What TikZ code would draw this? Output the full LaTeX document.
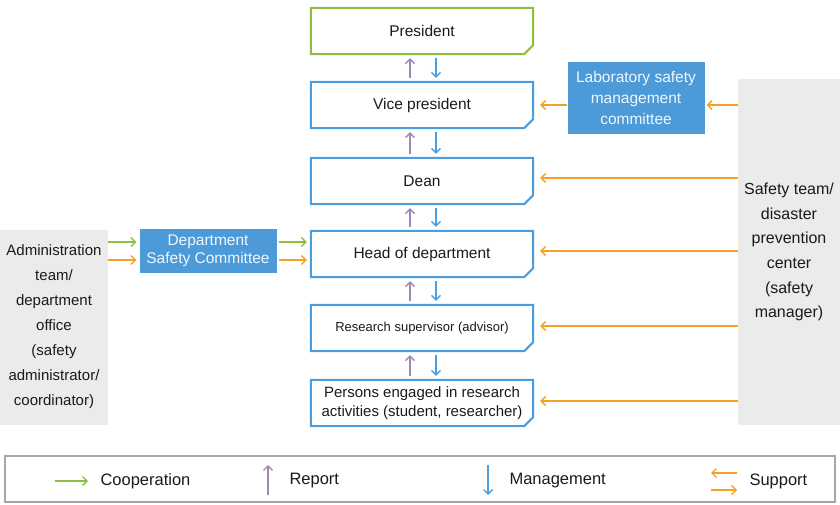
\documentclass[tikz,border=0pt]{standalone}
\usepackage{fontspec}
\setmainfont{Liberation Sans}
\usetikzlibrary{arrows.meta}
\definecolor{cgreen}{HTML}{8CBF3F}
\definecolor{cblue}{HTML}{4A9EE0}
\definecolor{cfill}{HTML}{4C9AD8}
\definecolor{cpurple}{HTML}{9E88B5}
\definecolor{corange}{HTML}{F5A027}
\definecolor{cpanel}{HTML}{EBEBEB}
\definecolor{ctext}{HTML}{1A1A1A}
\begin{document}
\begin{tikzpicture}[x=1pt,y=-1pt,
  lvl/.style={minimum width=222pt, minimum height=46pt, inner sep=0pt, align=center, text=ctext, font=\fontsize{15.5}{19}\selectfont},
  frame/.style={line width=2pt, line join=miter},
  comm/.style={fill=cfill, text=white!92!cfill, inner sep=0pt, align=center},
  panel/.style={fill=cpanel, inner sep=0pt, align=center, text=ctext},
  tip/.style={-{Straight Barb[length=4.5pt,width=9pt]}, line width=1.4pt},
  rep/.style={tip, cpurple},
  man/.style={tip, cblue},
  sup/.style={tip, corange},
  coop/.style={tip, cgreen},
  legtext/.style={anchor=west, text=ctext, font=\fontsize{16.5}{20}\selectfont}]
\useasboundingbox (0,0) rectangle (840,505);

% side panels
\node[panel, minimum width=108pt, minimum height=195pt, font=\fontsize{15}{25}\selectfont] (adm) at (54,327)
  {Administration\\team/\\department\\office\\(safety\\administrator/\\coordinator)};
\node[panel, minimum width=102pt, minimum height=345pt, font=\fontsize{16}{24.6}\selectfont] (stc) at (789,252)
  {Safety team/\\disaster\\prevention\\center\\(safety\\manager)};

% hierarchy
\node[lvl] (pres) at (422,31) {President};
\node[lvl] (vp) at (422,105) {Vice president};
\node[lvl] (dean) at (422,181) {Dean};
\node[lvl] (head) at (422,254) {Head of department};
\node[lvl, font=\fontsize{13}{17}\selectfont] (rs) at (422,328) {Research supervisor (advisor)};
\node[lvl, font=\fontsize{15}{19}\selectfont] (pe) at (422,403) {Persons engaged in research\\activities (student, researcher)};

\foreach \n/\c in {pres/cgreen, vp/cblue, dean/cblue, head/cblue, rs/cblue, pe/cblue}
  \draw[frame, \c] (\n.north west) -- (\n.north east) -- ([yshift=9pt]\n.south east)
    -- ([xshift=-9pt]\n.south east) -- (\n.south west) -- cycle;

\foreach \a/\b in {pres/vp, vp/dean, dean/head, head/rs, rs/pe} {
  \draw[rep] ([xshift=-12pt,yshift=4pt]\b.north) -- ([xshift=-12pt,yshift=-4pt]\a.south);
  \draw[man] ([xshift=14pt,yshift=-4pt]\a.south) -- ([xshift=14pt,yshift=4pt]\b.north);
}

% committees
\node[comm, minimum width=137pt, minimum height=72pt, font=\fontsize{15.5}{21}\selectfont] (lab) at (636,98)
  {Laboratory safety\\management\\committee};
\node[comm, minimum width=137pt, minimum height=44pt, font=\fontsize{15.5}{18}\selectfont] (dsc) at (208,251)
  {Department\\Safety Committee};

% support arrows
\draw[sup, shorten >=7pt] (lab.west |- 0,105) -- (vp.east |- 0,105);
\draw[sup, shorten >=2pt] (stc.west |- 0,105) -- (lab.east |- 0,105);
\draw[sup, shorten >=7pt] (stc.west |- 0,178) -- (dean.east |- 0,178);
\draw[sup, shorten >=7pt] (stc.west |- 0,251) -- (head.east |- 0,251);
\draw[sup, shorten >=7pt] (stc.west |- 0,326) -- (rs.east |- 0,326);
\draw[sup, shorten >=7pt] (stc.west |- 0,401) -- (pe.east |- 0,401);

% left arrows
\draw[coop, shorten >=3pt] (adm.east |- 0,242) -- (dsc.west |- 0,242);
\draw[sup, shorten >=3pt] (adm.east |- 0,260) -- (dsc.west |- 0,260);
\draw[coop, shorten >=4pt, shorten <=2pt] (dsc.east |- 0,242) -- (head.west |- 0,242);
\draw[sup, shorten >=4pt, shorten <=2pt] (dsc.east |- 0,260) -- (head.west |- 0,260);

% legend
\node[draw=gray!70, line width=1.2pt, minimum width=830pt, minimum height=46pt, inner sep=0pt] (leg) at (420,479) {};
\coordinate (lc1) at (55,481); \coordinate (lc2) at (88,481);
\draw[coop] (lc1) -- (lc2);
\node[legtext] (lcoop) at (97,481) {Cooperation};
\coordinate (lr1) at (268,495); \coordinate (lr2) at (268,465);
\draw[rep] (lr1) -- (lr2);
\node[legtext] (lrep) at (286,481) {Report};
\coordinate (lm1) at (488,465); \coordinate (lm2) at (488,495);
\draw[man] (lm1) -- (lm2);
\node[legtext] (lman) at (506,481) {Management};
\coordinate (ls1) at (737,473); \coordinate (ls2) at (711,473);
\coordinate (ls3) at (711,490); \coordinate (ls4) at (737,490);
\draw[sup] (ls1) -- (ls2);
\draw[sup] (ls3) -- (ls4);
\node[legtext] (lsup) at (746,481) {Support};
\end{tikzpicture}
\end{document}
